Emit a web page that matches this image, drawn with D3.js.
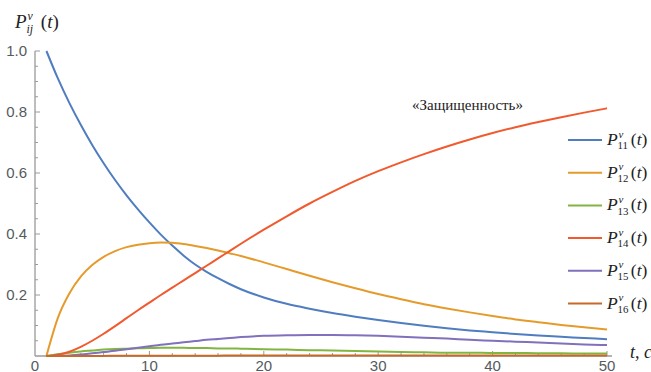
<!DOCTYPE html>
<html>
<head>
<meta charset="utf-8">
<script src="https://cdn.jsdelivr.net/npm/d3@7"></script>
<style>
  html, body { margin: 0; padding: 0; background: #fff; }
  svg { display: block; }
</style>
</head>
<body>
<svg id="chart" width="651" height="372"></svg>
<script>
// Time points, seconds
const tVals = [1,2,3,4,5,6,7,8,9,10,11,12,13,14,15,16,17,18,
               20,22,24,26,28,30,32,34,36,38,40,42,44,46,48,50];

// Transition probabilities P_1j(t)
const p11 = [1.0,0.91,0.83,0.758,0.692,0.632,0.577,0.527,0.481,0.438,0.398,0.362,0.329,0.3,0.276,0.255,0.236,0.219,
             0.192,0.171,0.155,0.141,0.129,0.118,0.108,0.099,0.091,0.084,0.078,0.072,0.067,0.063,0.059,0.055];
const p12 = [0,0.125,0.205,0.26,0.298,0.325,0.344,0.357,0.365,0.37,0.372,0.371,0.367,0.361,0.354,0.346,0.337,0.328,
             0.307,0.285,0.263,0.242,0.222,0.203,0.186,0.17,0.156,0.143,0.131,0.12,0.111,0.102,0.094,0.087];
const p13 = [0,0.006,0.011,0.015,0.018,0.021,0.023,0.024,0.025,0.026,0.027,0.027,0.027,0.026,0.026,0.025,0.025,0.024,
             0.022,0.021,0.019,0.018,0.016,0.015,0.013,0.012,0.011,0.011,0.01,0.01,0.009,0.009,0.008,0.008];
const p14 = [0,0.004,0.014,0.03,0.05,0.073,0.098,0.124,0.15,0.175,0.2,0.224,0.248,0.272,0.296,0.32,0.344,0.368,
             0.414,0.458,0.5,0.538,0.574,0.606,0.635,0.662,0.687,0.71,0.731,0.75,0.767,0.783,0.798,0.812];
const p15 = [0,0.0005,0.002,0.005,0.009,0.013,0.017,0.022,0.027,0.032,0.037,0.041,0.045,0.049,0.053,0.056,0.059,0.062,
             0.066,0.068,0.069,0.069,0.068,0.066,0.063,0.06,0.057,0.053,0.05,0.047,0.044,0.041,0.038,0.036];
const p16 = [0,0,0.0001,0.0002,0.0003,0.0004,0.0005,0.0006,0.0007,0.0008,0.0009,0.001,0.001,0.0011,0.0012,0.0012,0.0013,0.0013,
             0.0014,0.0015,0.0015,0.0016,0.0016,0.0016,0.0016,0.0016,0.0016,0.0016,0.0016,0.0016,0.0016,0.0016,0.0016,0.0016];

const seriesNames = ["11","12","13","14","15","16"];
const seriesValues = [p11, p12, p13, p14, p15, p16];
const seriesColors = ["#4f7dc0","#e59b2b","#82b540","#f05a2e","#8170bb","#c66a2a"];

const xTicks = [0,10,20,30,40,50];
const yTicks = [0.2,0.4,0.6,0.8,1.0];
const titleText = "«Защищенность»";

const svg = d3.select("#chart");

const x = d3.scaleLinear().domain([0, 50]).range([35, 607]);
const y = d3.scaleLinear().domain([0, 1]).range([356, 51]);

const axisColor = "#9a9a9a";
const labelColor = "#555a60";

// Y axis
const yAxis = svg.append("g").attr("transform", `translate(${x(0)},0)`);
yAxis.append("line").attr("x1",0).attr("x2",0).attr("y1",y(0)).attr("y2",y(1))
  .attr("stroke", axisColor).attr("stroke-width", 1.3);
d3.range(0.05, 1.0001, 0.05).forEach(v => {
  const major = yTicks.some(t => Math.abs(t - v) < 1e-6);
  yAxis.append("line").attr("x1",0).attr("x2", major ? 5 : 3)
    .attr("y1", y(v)).attr("y2", y(v))
    .attr("stroke", axisColor).attr("stroke-width", 1);
});
yTicks.forEach(v => {
  yAxis.append("text").attr("x", -8).attr("y", y(v)).attr("dy", "0.35em")
    .attr("text-anchor", "end").attr("font-family", "Liberation Sans, Arial, sans-serif")
    .attr("font-size", 15).attr("fill", labelColor).text(d3.format(".1f")(v));
});

// X axis
const xAxis = svg.append("g").attr("transform", `translate(0,${y(0)})`);
xAxis.append("line").attr("x1", x(0)).attr("x2", x(50) + 5).attr("y1",0).attr("y2",0)
  .attr("stroke", axisColor).attr("stroke-width", 1.3);
d3.range(2, 50.001, 2).forEach(v => {
  const major = xTicks.includes(v);
  xAxis.append("line").attr("x1", x(v)).attr("x2", x(v)).attr("y1", 0).attr("y2", major ? -5 : -3)
    .attr("stroke", axisColor).attr("stroke-width", 1);
});
xTicks.forEach(v => {
  xAxis.append("text").attr("x", x(v)).attr("y", 14.5)
    .attr("text-anchor", "middle").attr("font-family", "Liberation Sans, Arial, sans-serif")
    .attr("font-size", 15).attr("fill", labelColor).text(v);
});

// Axis titles
const serif = "Liberation Serif, Times New Roman, serif";
function pLabel(g, x0, yb, sub, size) {
  g.append("text").attr("x", x0).attr("y", yb).attr("font-family", serif)
    .attr("font-style", "italic").attr("font-size", size).attr("fill", "#222").text("P");
  g.append("text").attr("x", x0 + size * 0.66).attr("y", yb - size * 0.42).attr("font-family", serif)
    .attr("font-style", "italic").attr("font-size", size * 0.62).attr("fill", "#222").text("ν");
  g.append("text").attr("x", x0 + size * 0.6).attr("y", yb + size * 0.25).attr("font-family", serif)
    .attr("font-style", sub === "ij" ? "italic" : "normal")
    .attr("font-size", size * 0.62).attr("fill", "#222").text(sub);
  g.append("text").attr("x", x0 + size * 1.36).attr("y", yb).attr("font-family", serif)
    .attr("font-size", size).attr("fill", "#222")
    .html('(<tspan font-style="italic">t</tspan>)');
}
pLabel(svg, 15, 28, "ij", 19);

svg.append("text").attr("x", 630).attr("y", 358).attr("font-family", serif)
  .attr("font-style", "italic").attr("font-size", 18).attr("fill", "#222").text("t, c");

svg.append("text").attr("x", 412).attr("y", 110).attr("font-family", serif)
  .attr("font-size", 15).attr("fill", "#222").text(titleText);

// Curves
const line = d3.line()
  .x((d, i) => x(tVals[i]))
  .y(d => y(d))
  .curve(d3.curveMonotoneX);

seriesValues.forEach((vals, k) => {
  svg.append("path").datum(vals)
    .attr("d", line)
    .attr("fill", "none")
    .attr("stroke", seriesColors[k])
    .attr("stroke-width", 2)
    .attr("stroke-linejoin", "round");
});

// Legend
const legend = svg.append("g");
seriesNames.forEach((name, k) => {
  const ly = 140 + k * 32.7;
  legend.append("line").attr("x1", 568).attr("x2", 602).attr("y1", ly).attr("y2", ly)
    .attr("stroke", seriesColors[k]).attr("stroke-width", 2);
  pLabel(legend, 607, ly + 5, name, 17.5);
});
</script>
</body>
</html>
